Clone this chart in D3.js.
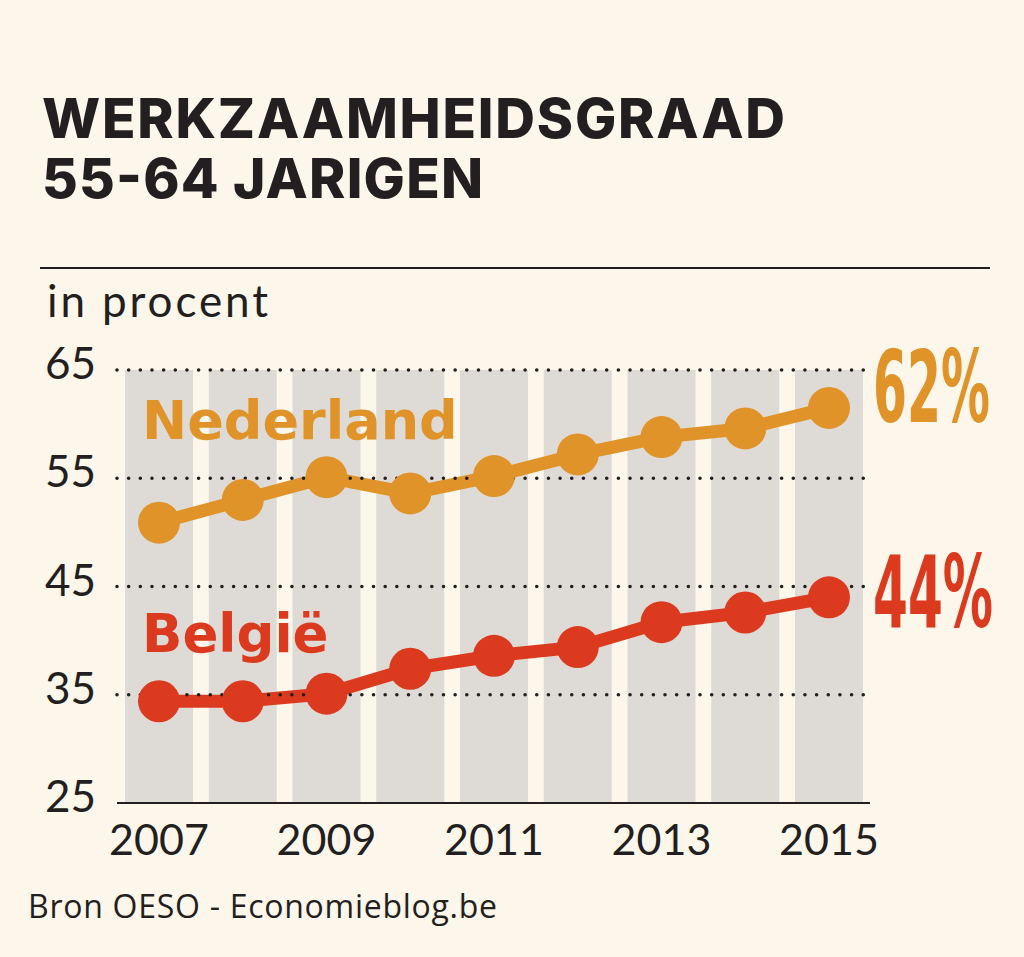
<!DOCTYPE html>
<html>
<head>
<meta charset="utf-8">
<script src="https://cdn.jsdelivr.net/npm/d3@7/dist/d3.min.js"></script>
<style>
  html, body { margin: 0; padding: 0; background: #FDF6EA; }
  svg { display: block; }
</style>
</head>
<body>
<svg id="chart" width="1024" height="957"></svg>
<script>
// ---- data ----
const years = [2007, 2008, 2009, 2010, 2011, 2012, 2013, 2014, 2015];
const nederland = [50.9, 53.0, 55.1, 53.6, 55.2, 57.2, 58.8, 59.6, 61.5];
const belgie = [34.4, 34.4, 35.1, 37.4, 38.6, 39.4, 41.7, 42.6, 44.0];
const yTicks = [25, 35, 45, 55, 65];
const xTickYears = [2007, 2009, 2011, 2013, 2015];
const titleLines = ["WERKZAAMHEIDSGRAAD", "55-64 JARIGEN"];
const unitLabel = "in procent";
const sourceLabel = "Bron OESO - Economieblog.be";
const seriesNames = ["Nederland", "België"];
const endLabels = ["62%", "44%"];

// ---- style ----
const bg = "#FDF6EA", ink = "#231F20", band = "#DEDBD6";
const orange = "#E09328", red = "#DB3A1F";

const svg = d3.select("#chart");
svg.append("rect").attr("width", 1024).attr("height", 957).attr("fill", bg);

const x = d3.scalePoint().domain(years).range([159, 829]);
const y = d3.scaleLinear().domain([25, 65]).range([803, 370]);
const bandW = 68;

// title
titleLines.forEach((t, i) => {
  svg.append("text")
    .attr("x", 42).attr("y", 138 + i * 60)
    .attr("font-family", "Inter, 'DejaVu Sans', sans-serif")
    .attr("font-weight", 800).attr("font-size", 55)
    .attr("fill", ink)
    .attr("textLength", i === 0 ? 743 : 441)
    .attr("lengthAdjust", "spacing")
    .text(t);
});

// separator
svg.append("line").attr("x1", 40).attr("x2", 990).attr("y1", 268).attr("y2", 268)
  .attr("stroke", ink).attr("stroke-width", 2);

svg.append("text").attr("x", 47).attr("y", 317)
  .attr("font-family", "Lato, 'Open Sans', sans-serif").attr("font-size", 44)
  .attr("fill", ink).attr("textLength", 221).attr("lengthAdjust", "spacing")
  .text(unitLabel);

// bands
svg.append("g").selectAll("rect").data(years).join("rect")
  .attr("x", d => x(d) - bandW / 2).attr("width", bandW)
  .attr("y", y(65)).attr("height", y(25) - y(65))
  .attr("fill", band);

// y tick labels
svg.append("g").selectAll("text").data(yTicks).join("text")
  .attr("x", 96).attr("y", d => y(d) + 9)
  .attr("text-anchor", "end")
  .attr("font-family", "Lato, 'Open Sans', sans-serif").attr("font-size", 44)
  .attr("fill", ink).text(d => d);

// x tick labels
svg.append("g").selectAll("text").data(xTickYears).join("text")
  .attr("x", d => x(d)).attr("y", 855)
  .attr("text-anchor", "middle")
  .attr("font-family", "Lato, 'Open Sans', sans-serif").attr("font-size", 43)
  .attr("fill", ink).text(d => d);

// baseline
svg.append("line").attr("x1", 117).attr("x2", 870).attr("y1", y(25)).attr("y2", y(25))
  .attr("stroke", ink).attr("stroke-width", 2.2);

const line = d3.line().x((d, i) => x(years[i])).y(d => y(d));
const series = [
  { name: seriesNames[0], values: nederland, color: orange },
  { name: seriesNames[1], values: belgie, color: red }
];

// lines
series.forEach(s => {
  svg.append("path").datum(s.values).attr("d", line)
    .attr("fill", "none").attr("stroke", s.color).attr("stroke-width", 13)
    .attr("stroke-linejoin", "round");
});

// dotted gridlines
svg.append("g").selectAll("line").data(yTicks.filter(d => d > 25)).join("line")
  .attr("x1", 117).attr("x2", 864)
  .attr("y1", d => y(d)).attr("y2", d => y(d))
  .attr("stroke", ink).attr("stroke-width", 3.6)
  .attr("stroke-linecap", "round")
  .attr("stroke-dasharray", "0 11.66");

// circles
series.forEach(s => {
  svg.append("g").selectAll("circle").data(s.values).join("circle")
    .attr("cx", (d, i) => x(years[i])).attr("cy", d => y(d))
    .attr("r", 21).attr("fill", s.color);
});

// series labels
svg.append("text").attr("x", 142).attr("y", 439)
  .attr("font-family", "'DejaVu Sans', sans-serif").attr("font-weight", 700)
  .attr("font-size", 54).attr("fill", orange)
  .text(seriesNames[0]);
svg.append("text").attr("x", 142).attr("y", 652)
  .attr("font-family", "'DejaVu Sans', sans-serif").attr("font-weight", 700)
  .attr("font-size", 53).attr("fill", red)
  .text(seriesNames[1]);

// end labels (condensed, squeezed to width)
[[endLabels[0], 422, orange, 117], [endLabels[1], 627, red, 120]].forEach(([t, yy, c, w]) => {
  const g = svg.append("g");
  const tx = g.append("text").attr("x", 0).attr("y", 0)
    .attr("font-family", "'Liberation Sans Narrow', 'DejaVu Sans Condensed', sans-serif")
    .attr("font-weight", 700)
    .attr("font-size", 100).attr("fill", c)
    .text(t);
  const nat = tx.node().getComputedTextLength();
  g.attr("transform", `translate(873,${yy}) scale(${w / nat},1)`);
});

// source
svg.append("text").attr("x", 28).attr("y", 918)
  .attr("font-family", "'Open Sans', sans-serif").attr("font-size", 32)
  .attr("fill", ink).attr("textLength", 469).attr("lengthAdjust", "spacing")
  .text(sourceLabel);
</script>
</body>
</html>
